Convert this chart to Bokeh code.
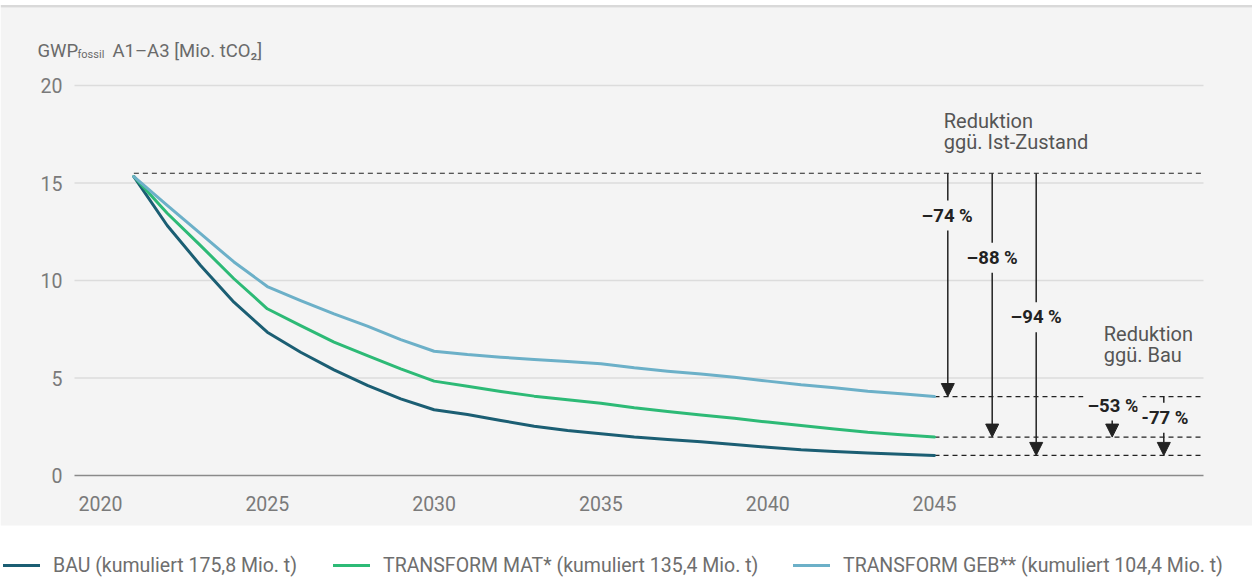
from bokeh.plotting import figure
from bokeh.models import (Range1d, FixedTicker, Label, Arrow, NormalHead,
                          Legend, LegendItem, BoxAnnotation)
from bokeh.embed import file_html
from bokeh.resources import INLINE

# ---------------- data ----------------
years = list(range(2021, 2046))
bau = [15.33, 12.82, 10.77, 8.89, 7.35, 6.32, 5.42, 4.62, 3.93, 3.37,
       3.13, 2.82, 2.53, 2.31, 2.14, 1.97, 1.85, 1.73, 1.59, 1.45,
       1.32, 1.23, 1.16, 1.09, 1.03]
mat = [15.33, 13.45, 11.79, 10.09, 8.55, 7.69, 6.84, 6.15, 5.47, 4.84,
       4.58, 4.31, 4.07, 3.88, 3.71, 3.47, 3.28, 3.10, 2.94, 2.74,
       2.56, 2.39, 2.22, 2.09, 1.97]
geb = [15.33, 13.85, 12.40, 10.95, 9.69, 8.97, 8.29, 7.66, 6.97, 6.37,
       6.20, 6.07, 5.95, 5.85, 5.73, 5.52, 5.35, 5.21, 5.04, 4.84,
       4.65, 4.50, 4.32, 4.19, 4.05]
series_labels = ["BAU (kumuliert 175,8 Mio. t)",
                 "TRANSFORM MAT* (kumuliert 135,4 Mio. t)",
                 "TRANSFORM GEB** (kumuliert 104,4 Mio. t)"]
x_ticks = [2020, 2025, 2030, 2035, 2040, 2045]
y_ticks = [0, 5, 10, 15, 20]
ist_level = 15.5
labels_ist = ["–74 %", "–88 %", "–94 %"]
labels_bau = ["–53 %", "-77 %"]

# ---------------- style / layout ----------------
W, H = 1252, 577
BG = "#f4f4f4"
C_BAU, C_MAT, C_GEB = "#1b5e73", "#2dba76", "#6cb0c8"
FONT = "Roboto"
INK = "#222222"
PXY = 33.36          # px per year
PXV = 19.5           # px per unit
X0 = 2020 - 100 / PXY
X1 = X0 + W / PXY
Y1 = 475 / PXV
Y0 = Y1 - H / PXV


def px2yr(px):
    return 2020 + (px - 100) / PXY


def py2v(py):
    return (475 - py) / PXV


GRID_L, GRID_R = px2yr(74), px2yr(1203)

p = figure(width=W, height=H, output_backend="svg", toolbar_location=None,
           title=None, x_range=Range1d(X0, X1), y_range=Range1d(Y0, Y1),
           min_border=0, background_fill_color="white", border_fill_color="white",
           outline_line_color=None)

# panel backgrounds
p.add_layout(BoxAnnotation(left=X0, right=X1, top=py2v(7), bottom=py2v(525),
                           fill_color=BG, fill_alpha=1, line_color=None, level="underlay"))
p.add_layout(BoxAnnotation(left=X0, right=X1, top=py2v(4.5), bottom=py2v(7),
                           fill_color="#d9d9d9", fill_alpha=1, line_color=None, level="underlay"))

for ax in (p.xaxis[0], p.yaxis[0]):
    ax.axis_line_color = None
    ax.major_tick_line_color = None
    ax.minor_tick_line_color = None
    ax.major_tick_out = 0
    ax.major_tick_in = 0
    ax.minor_tick_out = 0
    ax.major_label_text_font = FONT
    ax.major_label_text_font_size = "19.5px"
    ax.major_label_text_color = "#7a7a7a"
p.xaxis.ticker = FixedTicker(ticks=x_ticks)
p.yaxis.ticker = FixedTicker(ticks=y_ticks)
p.xaxis.fixed_location = py2v(490)
p.yaxis.fixed_location = GRID_L
p.xaxis.major_label_standoff = 5
p.yaxis.major_label_standoff = 12
p.xgrid.visible = False
p.ygrid.visible = False

# horizontal grid lines (0 line darker)
grid_cols = ["#8a8a8a" if t == 0 else "#dcdcdc" for t in y_ticks]
p.segment(x0=[GRID_L] * len(y_ticks), x1=[GRID_R] * len(y_ticks), y0=y_ticks, y1=y_ticks,
          line_color=grid_cols, line_width=1.5)

# reference dashed lines
dash = dict(line_color=INK, line_width=1.2, line_dash="5 4")
p.segment(x0=[years[0]], y0=[ist_level], x1=[GRID_R], y1=[ist_level], **dash)
ends = [geb[-1], mat[-1], bau[-1]]
p.segment(x0=[years[-1]] * 3, y0=ends, x1=[GRID_R] * 3, y1=ends, **dash)

# series
renderers = []
for vals, col in ((bau, C_BAU), (mat, C_MAT), (geb, C_GEB)):
    renderers.append(p.line(years, vals, line_color=col, line_width=3,
                            line_join="round", line_cap="round"))

# arrows: reduction vs Ist-Zustand
ist_x = [px2yr(947.3), px2yr(991.7), px2yr(1035.7)]
for xa, ye in zip(ist_x, ends):
    p.add_layout(Arrow(x_start=xa, y_start=ist_level, x_end=xa, y_end=ye,
                       line_color=INK, line_width=1.5,
                       end=NormalHead(size=13, fill_color=INK, line_color=INK)))
# arrows: reduction vs Bau
bau_x = [px2yr(1111.7), px2yr(1163.3)]
for xa, ye in zip(bau_x, [mat[-1], bau[-1]]):
    p.add_layout(Arrow(x_start=xa, y_start=geb[-1], x_end=xa, y_end=ye,
                       line_color=INK, line_width=1.5,
                       end=NormalHead(size=13, fill_color=INK, line_color=INK)))

pct = dict(text_font=FONT, text_font_size="18.5px", text_font_style="bold",
           text_color=INK, text_align="center", text_baseline="middle",
           background_fill_color=BG, padding=4)
ist_lab_pos = [(946.7, 215), (991.7, 257.3), (1035.7, 316.7)]
for t, (lx, ly) in zip(labels_ist, ist_lab_pos):
    p.add_layout(Label(x=px2yr(lx), y=py2v(ly), text=t, **pct))
bau_lab_pos = [(1112.5, 405), (1164.5, 417.3)]
for t, (lx, ly) in zip(labels_bau, bau_lab_pos):
    p.add_layout(Label(x=px2yr(lx), y=py2v(ly), text=t, **pct))

note = dict(text_font=FONT, text_font_size="20px", text_color="#555555",
            text_align="left", text_baseline="middle")
for t, (lx, ly) in zip(["Reduktion", "ggü. Ist-Zustand"], [(943.3, 120.7), (943.3, 141.7)]):
    p.add_layout(Label(x=px2yr(lx), y=py2v(ly), text=t, **note))
for t, (lx, ly) in zip(["Reduktion", "ggü. Bau"], [(1103.3, 333.3), (1103.3, 354.3)]):
    p.add_layout(Label(x=px2yr(lx), y=py2v(ly), text=t, **note))

# y-axis title with subscript
tcol = "#6a6a6a"
p.add_layout(Label(x=px2yr(37), y=py2v(50), text="GWP", text_font=FONT,
                   text_font_size="18.5px", text_color=tcol, text_baseline="alphabetic"))
p.add_layout(Label(x=px2yr(77), y=py2v(54), text="fossil", text_font=FONT,
                   text_font_size="11px", text_color=tcol, text_baseline="alphabetic"))
p.add_layout(Label(x=px2yr(112), y=py2v(50), text="A1–A3 [Mio. tCO₂]", text_font=FONT,
                   text_font_size="18.5px", text_color=tcol, text_baseline="alphabetic"))

# legend (three independently positioned entries)
leg_x = [3, 333, 793]
for lab, r, lx in zip(series_labels, renderers, leg_x):
    leg = Legend(items=[LegendItem(label=lab, renderers=[r])], location=(lx, 0),
                 padding=0, margin=0, spacing=0, glyph_width=37, glyph_height=24,
                 label_height=24, label_standoff=13, border_line_color=None,
                 background_fill_alpha=0, label_text_font=FONT,
                 label_text_font_size="19.5px", label_text_color="#6e6e6e")
    p.add_layout(leg, "center")

open("out.html", "w").write(file_html(p, INLINE))
